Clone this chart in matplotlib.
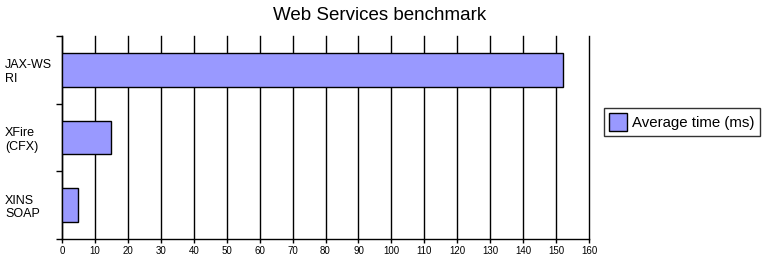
import matplotlib.pyplot as plt
import numpy as np

# data
categories = ["JAX-WS\nRI", "XFire\n(CFX)", "XINS\nSOAP"]
avg_time = [152, 15, 5]
series_name = "Average time (ms)"
x_ticks = list(range(0, 161, 10))

plt.rcParams['font.family'] = ['Liberation Sans', 'DejaVu Sans']

fig = plt.figure(figsize=(7.66, 2.58), dpi=100)
ax = fig.add_axes([62 / 766, 19 / 258, 527 / 766, 203 / 258])

y = np.arange(len(categories))
ax.barh(y, avg_time, height=0.5, color='#9999ff', edgecolor='black',
        linewidth=1, label=series_name, zorder=3)

ax.set_xlim(0, 160)
ax.set_ylim(len(categories) - 0.5, -0.5)
ax.set_xticks(x_ticks)
ax.set_xticklabels([str(v) for v in x_ticks], fontsize=7)
ax.xaxis.grid(True, color='black', linewidth=1, zorder=0)
for gl in ax.get_xgridlines():
    gl.set_clip_on(False)

# boundary ticks without labels, labels on minor ticks at centres
ax.set_yticks(np.arange(-0.5, len(categories), 1.0))
ax.set_yticklabels([])
ax.set_yticks(y, minor=True)
ax.set_yticklabels(categories, minor=True, fontsize=9, ha='left')
ax.tick_params(axis='y', which='major', length=4, width=1, direction='out')
ax.tick_params(axis='y', which='minor', length=0, pad=41)
ax.tick_params(axis='x', length=3, width=1, direction='out', pad=2)

for side in ('top', 'right'):
    ax.spines[side].set_visible(False)
for side in ('left', 'bottom'):
    ax.spines[side].set_linewidth(1)

fig.text(380 / 766, 1 - 15 / 258, "Web Services benchmark", ha='center',
         va='center', fontsize=13.5, fontweight='medium')

fig.legend(loc='center left', bbox_to_anchor=(604 / 766, 1 - 122 / 258),
           fontsize=10.8, frameon=True, fancybox=False, edgecolor='black',
           handlelength=1.2, handleheight=1.4, borderpad=0.35,
           handletextpad=0.3, borderaxespad=0)
fig.legends[0].get_frame().set_linewidth(1)

fig.savefig("out.png", dpi=100)
